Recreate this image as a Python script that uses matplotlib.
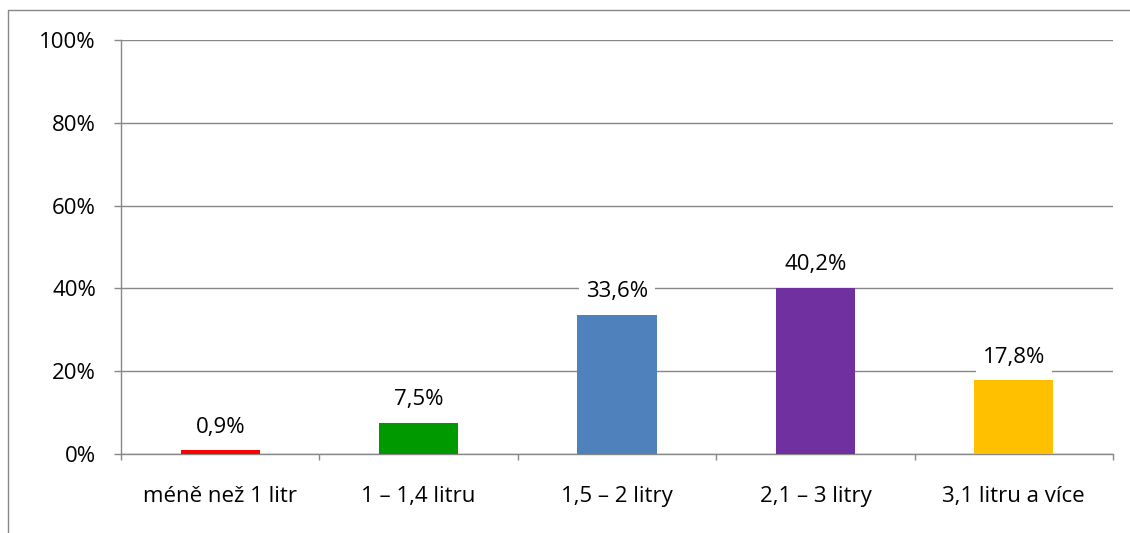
import matplotlib
matplotlib.use("Agg")
import matplotlib.pyplot as plt
from matplotlib.patches import Rectangle
from matplotlib.ticker import FuncFormatter

categories = ["méně než 1 litr", "1 – 1,4 litru", "1,5 – 2 litry", "2,1 – 3 litry", "3,1 litru a více"]
values = [0.9, 7.5, 33.6, 40.2, 17.8]
colors = ["#FF0000", "#009900", "#4F81BD", "#7030A0", "#FFC000"]
yticks = [0, 20, 40, 60, 80, 100]

plt.rcParams['font.family'] = ['Open Sans', 'DejaVu Sans']
GRID = "#878787"
FS = 16

W, H = 1130, 533
fig = plt.figure(figsize=(W / 100, H / 100), dpi=100)

# chart-area border
fig.patches.append(Rectangle((8 / W, -0.1), 1.2, (H - 10) / H + 0.1,
                             transform=fig.transFigure, fill=False,
                             edgecolor=GRID, linewidth=1.0))

ax = fig.add_axes([121 / W, 79 / H, (1113 - 121) / W, (454 - 40) / H])
x = list(range(len(categories)))
ax.bar(x, values, width=0.4, color=colors, zorder=3)

ax.set_xlim(-0.5, len(categories) - 0.5)
ax.set_ylim(0, 100)
ax.set_yticks(yticks)
ax.yaxis.set_major_formatter(FuncFormatter(lambda v, p: f"{v:.0f}%"))
ax.yaxis.grid(True, color=GRID, linewidth=1.0, zorder=0)
ax.set_axisbelow(True)

ax.set_xticks(x)
ax.set_xticklabels(categories)
ax.set_xticks([i - 0.5 for i in range(len(categories) + 1)], minor=True)
ax.tick_params(axis="x", which="major", length=0, pad=23, labelsize=FS)
ax.tick_params(axis="x", which="minor", length=4.5, color=GRID, width=1.0)
ax.tick_params(axis="y", length=5, color=GRID, width=1.0, pad=13, labelsize=FS)

for side in ("top", "right"):
    ax.spines[side].set_visible(False)
for side in ("left", "bottom"):
    ax.spines[side].set_color(GRID)
    ax.spines[side].set_linewidth(1.0)

for xi, v in zip(x, values):
    ax.annotate(f"{v:.1f}%".replace(".", ","), (xi, v), xytext=(0, 9),
                textcoords="offset points", ha="center", va="bottom",
                fontsize=FS, zorder=4,
                bbox=dict(boxstyle="square,pad=0.3", facecolor="white", edgecolor="none"))

fig.savefig("out.png", dpi=100)
